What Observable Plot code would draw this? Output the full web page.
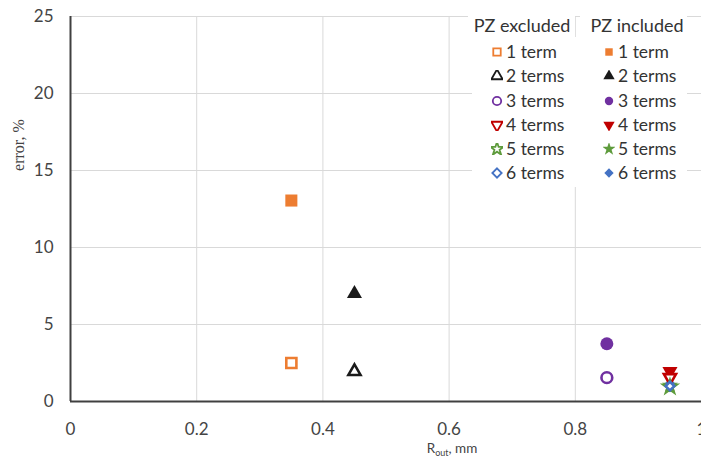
<!DOCTYPE html>
<html><head><meta charset="utf-8">
<script src="https://cdn.jsdelivr.net/npm/d3@7"></script>
<script src="https://cdn.jsdelivr.net/npm/@observablehq/plot@0.6"></script>
<style>
body{margin:0;background:#fff;overflow:hidden}
#wrap{position:relative;width:701px;height:461px;overflow:hidden;font-family:Lato,"Open Sans",sans-serif;color:#333}
.box{position:absolute;background:#fff}
.hdr{position:absolute;font-size:18px;line-height:20px;white-space:nowrap;transform:translateX(-50%);color:#333}
.row{position:absolute;font-size:17.5px;line-height:20px;white-space:nowrap;display:flex;align-items:center;color:#333}
.row svg{margin-right:3px}
#ylab{position:absolute;left:19px;top:145px;transform:translate(-50%,-50%) rotate(-90deg);font-family:"Liberation Serif",serif;font-size:16px;white-space:nowrap;color:#444}
#xlab{position:absolute;left:452px;top:449px;transform:translate(-50%,-50%);font-size:13.5px;white-space:nowrap;color:#444}
</style>
</head><body><div id="wrap"></div>
<script>
const terms = ["1 term","2 terms","3 terms","4 terms","5 terms","6 terms"];
const rout = [0.35, 0.45, 0.85, 0.95, 0.95, 0.95];
const errExcluded = [2.5, 1.95, 1.55, 1.55, 0.95, 1.0];
const errIncluded = [13.05, 7.0, 3.75, 1.95, 1.05, 1.15];
const colors = ["#ED7D31", "#1a1a1a", "#7030A0", "#C00000", "#5E9B3C", "#4472C4"];
const symbols = ["square", "triangle", "circle", "triangle", "star", "diamond2"];
const rotations = [0, 0, 0, 180, 0, 0];
const sizes = [6.8, 5.6, 6.5, 5.6, 5.0, 5.0];
const xTicks = [0, 0.2, 0.4, 0.6, 0.8, 1];
const yTicks = [0, 5, 10, 15, 20, 25];

const data = [];
terms.forEach((t, i) => {
  data.push({term: t, x: rout[i], y: errExcluded[i], pz: "excluded", i});
  data.push({term: t, x: rout[i], y: errIncluded[i], pz: "included", i});
});

const plot = Plot.plot({
  width: 701, height: 461,
  marginLeft: 70, marginRight: 0, marginTop: 16, marginBottom: 60,
  style: {fontFamily: "Lato, 'Open Sans', sans-serif", fontSize: "17px", color: "#444", background: "#fff", overflow: "visible"},
  x: {domain: [0, 1], ticks: xTicks},
  y: {domain: [0, 25], ticks: yTicks},
  r: {type: "identity"},
  symbol: {type: "identity"},
  color: {type: "identity"},
  marks: [
    Plot.gridX(xTicks.filter(d => d > 0), {stroke: "#d9d9d9", strokeOpacity: 1, strokeWidth: 1}),
    Plot.gridY(yTicks.filter(d => d > 0), {stroke: "#d9d9d9", strokeOpacity: 1, strokeWidth: 1}),
    Plot.axisX(xTicks, {tickSize: 0, tickPadding: 21, label: null, fill: "#444", fontSize: 17, tickFormat: d => `${d}`}),
    Plot.axisY(yTicks, {tickSize: 0, tickPadding: 17, label: null, fill: "#444", fontSize: 17, tickFormat: d => `${d}`}),
    Plot.ruleX([0], {stroke: "#404040", strokeWidth: 2}),
    Plot.ruleY([0], {stroke: "#404040", strokeWidth: 2}),
    Plot.dot(data, {
      x: "x", y: "y",
      symbol: d => symbols[d.i],
      rotate: d => rotations[d.i],
      r: d => d.pz === "included" ? sizes[d.i] : sizes[d.i] - 1.1,
      fill: d => d.pz === "included" ? colors[d.i] : "#fff",
      stroke: d => colors[d.i],
      strokeWidth: d => d.pz === "included" ? 0 : 2.6
    })
  ]
});
const wrap = document.getElementById("wrap");
wrap.appendChild(plot);

function addBox(l, t, w, h) {
  const b = document.createElement("div");
  b.className = "box";
  Object.assign(b.style, {left: l + "px", top: t + "px", width: w + "px", height: h + "px"});
  wrap.appendChild(b);
}
addBox(468, 8, 107, 30);
addBox(580, 8, 107, 30);
addBox(472, 37, 215, 150);

function hdr(txt, cx, cy) {
  const d = document.createElement("div");
  d.className = "hdr"; d.textContent = txt;
  d.style.left = cx + "px"; d.style.top = (cy - 10) + "px";
  wrap.appendChild(d);
}
hdr("PZ excluded", 522, 25);
hdr("PZ included", 637, 25);

const rowY = [52, 76, 101, 125, 149, 173];
function symPath(i) {
  const type = {square: d3.symbolSquare, triangle: d3.symbolTriangle, circle: d3.symbolCircle, star: d3.symbolStar, diamond2: d3.symbolDiamond2}[symbols[i]];
  const r = 4.2;
  return d3.symbol(type, Math.PI * r * r)();
}
terms.forEach((t, i) => {
  ["excluded", "included"].forEach((pz, k) => {
    const d = document.createElement("div");
    d.className = "row";
    d.style.left = (k === 0 ? 491 : 603) + "px";
    d.style.top = (rowY[i] - 10) + "px";
    const filled = pz === "included";
    d.innerHTML = `<svg width="12" height="12" viewBox="-6 -6 12 12"><path d="${symPath(i)}" transform="rotate(${rotations[i]})" fill="${filled ? colors[i] : "#fff"}" stroke="${colors[i]}" stroke-width="${filled ? 0 : 1.8}"/></svg><span>${t}</span>`;
    wrap.appendChild(d);
  });
});

const yl = document.createElement("div");
yl.id = "ylab"; yl.textContent = "error, %";
wrap.appendChild(yl);
const xl = document.createElement("div");
xl.id = "xlab"; xl.innerHTML = "R<sub style='font-size:9px'>out</sub>, mm";
wrap.appendChild(xl);
</script>
</body></html>
